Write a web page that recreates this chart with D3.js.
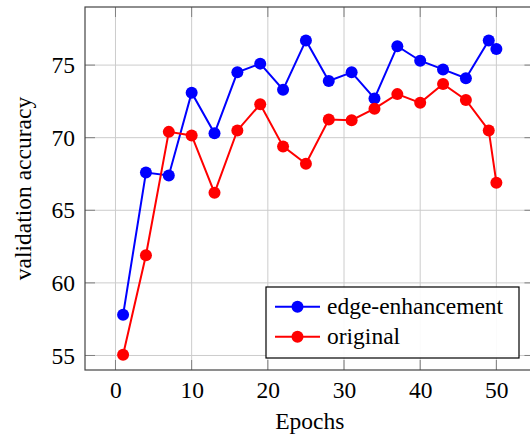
<!DOCTYPE html>
<html>
<head>
<meta charset="utf-8">
<script src="https://cdn.jsdelivr.net/npm/d3@7"></script>
<style>
  html, body { margin: 0; padding: 0; background: #fff; }
  svg { display: block; }
  text { font-family: "Liberation Serif", "Times New Roman", serif; fill: #000; }
</style>
</head>
<body>
<svg id="chart" width="530" height="437"></svg>
<script>
const epochs = [1, 4, 7, 10, 13, 16, 19, 22, 25, 28, 31, 34, 37, 40, 43, 46, 49, 50];
const edgeEnhancement = [57.8, 67.6, 67.4, 73.1, 70.3, 74.5, 75.1, 73.3, 76.7, 73.9, 74.5, 72.7, 76.3, 75.3, 74.7, 74.1, 76.7, 76.1];
const original = [55.05, 61.9, 70.4, 70.15, 66.2, 70.5, 72.3, 69.4, 68.2, 71.25, 71.2, 72.0, 73.0, 72.4, 73.7, 72.6, 70.5, 66.9];
const xTicks = [0, 10, 20, 30, 40, 50];
const yTicks = [55, 60, 65, 70, 75];
const seriesNames = ["edge-enhancement", "original"];
const seriesColors = ["#0000ff", "#ff0000"];

(function () {
const FONT = '"Liberation Serif", "Times New Roman", serif';
const FS = 23.5;
const svg = d3.select("#chart");
const pL = 85, pT = 7, pB = 370;
const x = d3.scaleLinear().domain([-4, 55]).range([pL, pL + 59 * 7.618]);
const y = d3.scaleLinear().domain([54, 79]).range([pB, pT]);
const pR = x.range()[1];

// grid
const grid = svg.append("g");
grid.selectAll("line.gx").data(xTicks).enter().append("line")
  .attr("x1", d => x(d)).attr("x2", d => x(d)).attr("y1", pT).attr("y2", pB)
  .attr("stroke", "#cccccc").attr("stroke-width", 1);
grid.selectAll("line.gy").data(yTicks).enter().append("line")
  .attr("y1", d => y(d)).attr("y2", d => y(d)).attr("x1", pL).attr("x2", pR)
  .attr("stroke", "#cccccc").attr("stroke-width", 1);

// ticks (inside, both sides)
const tl = 10;
const ticks = svg.append("g").attr("stroke", "#808080").attr("stroke-width", 1);
xTicks.forEach(d => {
  ticks.append("line").attr("x1", x(d)).attr("x2", x(d)).attr("y1", pB).attr("y2", pB - tl);
  ticks.append("line").attr("x1", x(d)).attr("x2", x(d)).attr("y1", pT).attr("y2", pT + tl);
});
yTicks.forEach(d => {
  ticks.append("line").attr("x1", pL).attr("x2", pL + tl).attr("y1", y(d)).attr("y2", y(d));
  ticks.append("line").attr("x1", pR).attr("x2", pR - tl).attr("y1", y(d)).attr("y2", y(d));
});

// frame
svg.append("rect").attr("x", pL).attr("y", pT).attr("width", pR - pL).attr("height", pB - pT)
  .attr("fill", "none").attr("stroke", "#444").attr("stroke-width", 1.2);

// tick labels via d3 axes (no lines)
const xAxis = svg.append("g").attr("transform", `translate(0,${pB})`)
  .call(d3.axisBottom(x).tickValues(xTicks).tickSize(0).tickPadding(11));
xAxis.attr("font-family", null).attr("font-size", null);
xAxis.select(".domain").remove();
xAxis.selectAll("text").style("font-family", FONT).style("font-size", FS + "px").attr("fill", "#000");

const yAxis = svg.append("g").attr("transform", `translate(${pL},0)`)
  .call(d3.axisLeft(y).tickValues(yTicks).tickSize(0).tickPadding(10));
yAxis.attr("font-family", null).attr("font-size", null);
yAxis.select(".domain").remove();
yAxis.selectAll("text").style("font-family", FONT).style("font-size", FS + "px").attr("fill", "#000");

// series
const data = [edgeEnhancement, original];
const line = d3.line().x((d, i) => x(epochs[i])).y(d => y(d));
data.forEach((vals, k) => {
  const g = svg.append("g");
  g.append("path").datum(vals).attr("d", line).attr("fill", "none")
    .attr("stroke", seriesColors[k]).attr("stroke-width", 2);
  g.selectAll("circle").data(vals).enter().append("circle")
    .attr("cx", (d, i) => x(epochs[i])).attr("cy", d => y(d)).attr("r", 6)
    .attr("fill", seriesColors[k]);
});

// legend
const lg = svg.append("g");
lg.append("rect").attr("x", 266).attr("y", 287).attr("width", 253).attr("height", 71)
  .attr("fill", "#fff").attr("fill-opacity", 0.9).attr("stroke", "#000").attr("stroke-width", 1.2);
seriesNames.forEach((name, k) => {
  const cy = 306.7 + k * 30;
  lg.append("line").attr("x1", 275).attr("x2", 320).attr("y1", cy).attr("y2", cy)
    .attr("stroke", seriesColors[k]).attr("stroke-width", 2);
  lg.append("circle").attr("cx", 297.5).attr("cy", cy).attr("r", 6).attr("fill", seriesColors[k]);
  lg.append("text").attr("x", 327).attr("y", cy + 7)
    .style("font-family", FONT).style("font-size", FS + "px").text(name);
});

// axis titles
svg.append("text").attr("x", (pL + pR) / 2).attr("y", 429).attr("text-anchor", "middle")
  .style("font-family", FONT).style("font-size", FS + "px").text("Epochs");
svg.append("text").attr("transform", `translate(31,${(pT + pB) / 2}) rotate(-90)`)
  .attr("text-anchor", "middle")
  .style("font-family", FONT).style("font-size", FS + "px").text("validation accuracy");
})();
</script>
</body>
</html>
